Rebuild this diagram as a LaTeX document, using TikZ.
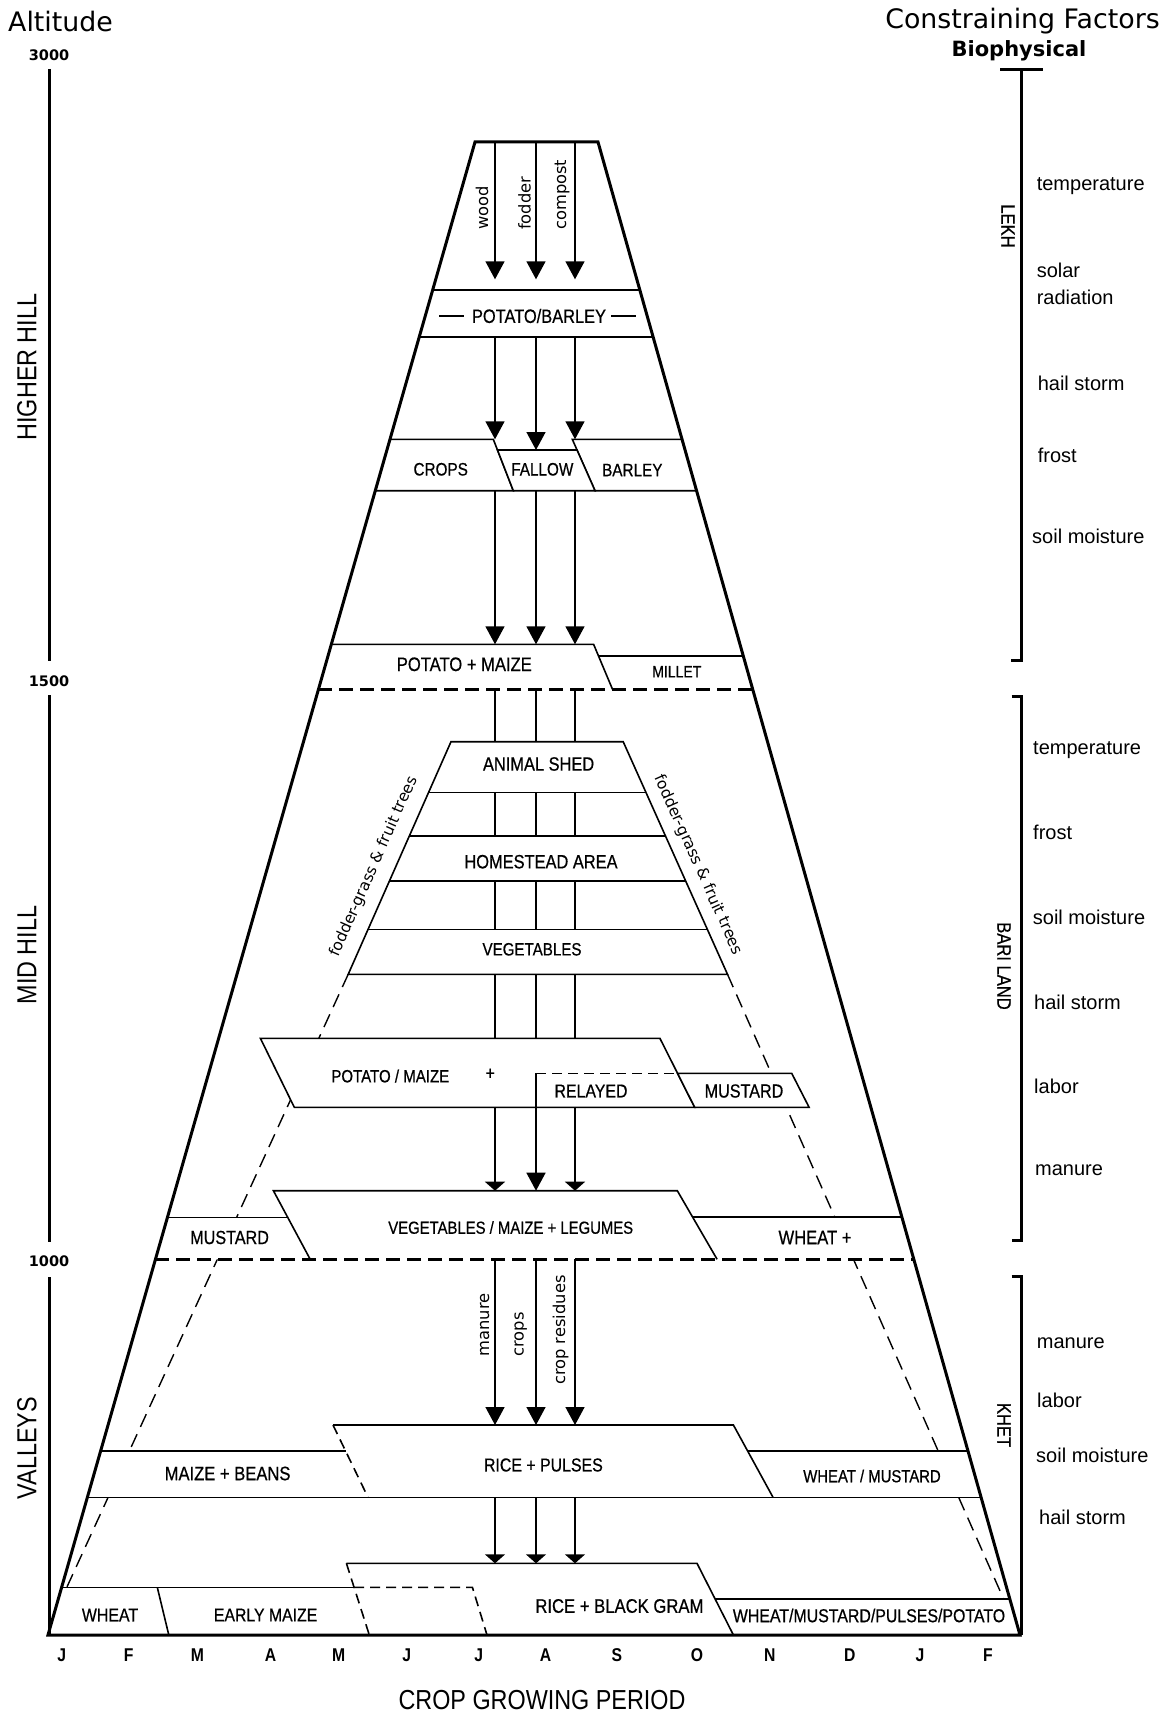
\documentclass[tikz,border=0pt]{standalone}
\usepackage{fontspec}
\setmainfont{Liberation Sans}
\newfontfamily\nar[FakeStretch=0.85]{Liberation Sans}
\newfontfamily\narb[FakeStretch=0.85,FakeBold=0.6]{Liberation Sans}
\newfontfamily\dvs{DejaVu Sans}
\usetikzlibrary{arrows.meta}
\tikzset{
 thickl/.style={line width=3pt,line join=miter},
 thin/.style={line width=1.6pt},
 arr/.style={line width=1.5pt,-{Triangle[width=19pt,length=18pt]}},
 flat/.style={line width=1.5pt,-{Triangle[width=20pt,length=9pt]}},
 link/.style={line width=1.5pt},
 bigdash/.style={line width=3pt,dash pattern=on 14pt off 7pt},
 sidedash/.style={line width=1.4pt,dash pattern=on 14pt off 8pt},
 reldash/.style={line width=1.6pt,dash pattern=on 10pt off 6pt},
 crop/.style={font={\narb\fontsize{#1}{#1}\selectfont},inner sep=0pt},
 crop/.default=18.7,
 flow/.style={font={\dvs\fontsize{16.3}{16.3}\selectfont},inner sep=0pt,rotate=90,anchor=base west},
 grass/.style={font={\dvs\fontsize{15.5}{15.5}\selectfont},inner sep=0pt},
 factor/.style={font={\fontsize{20}{20}\selectfont},inner sep=0pt,anchor=west},
 zonetext/.style={font={\nar\fontsize{27.5}{27.5}\selectfont},inner sep=0pt},
 zone/.style={zonetext,rotate=90},
 landuse/.style={font={\narb\fontsize{19.5}{19.5}\selectfont},inner sep=0pt,rotate=-90},
 month/.style={font={\nar\bfseries\fontsize{18.5}{18.5}\selectfont},inner sep=0pt},
 altnum/.style={font={\dvs\bfseries\fontsize{14.5}{14.5}\selectfont},inner sep=0pt},
 head/.style={font={\dvs\fontsize{26.8}{26.8}\selectfont},inner sep=0pt},
 bracket/.style={line width=3pt,line join=miter},
}
\begin{document}
\begin{tikzpicture}[x=1pt,y=-1pt]
\fill[white] (0,0) rectangle (1171,1715);
\useasboundingbox (0,0) rectangle (1171,1715);

% ---------- inside the pyramid ----------
\begin{scope}
\clip (475,142)--(598,142)--(1020,1635)--(48,1635)--cycle;
\coordinate (ldA) at (348.19,974.3);
\coordinate (ldB) at (66.8,1587.3);
\coordinate (rdA) at (727.5,974.3);
\coordinate (rdB) at (1003.6,1599);
\draw[sidedash] (ldA) -- (ldB);
\draw[sidedash] (rdA) -- (rdB);

% band A: potato/barley
\filldraw[fill=white,thin] (0,290) rectangle (1171,337);
% band B: crops / fallow / barley
\filldraw[fill=white,thin] (0,439.3)--(493.3,439.3)--(513.3,490.7)--(0,490.7)--cycle;
\filldraw[fill=white,thin] (572.3,439.3)--(1171,439.3)--(1171,490.7)--(595,490.7)--cycle;
\filldraw[fill=white,thin] (497.5,450)--(577,450)--(595,490.7)--(513.3,490.7)--cycle;
% band C: potato + maize / millet
\fill[white] (0,644.3)--(593.6,644.3)--(612.5,689.3)--(0,689.3)--cycle;
\fill[white] (598.5,655.7)--(1171,655.7)--(1171,689.3)--(612.5,689.3)--cycle;
\draw[thin] (0,644.3)--(593.6,644.3)--(612.5,689.3);
\draw[thin] (598.5,655.7)--(1171,655.7);
\draw[bigdash] (318.47,689.3)--(752.70,689.3);

% inner trapezoid (homestead)
\draw[thin,line join=miter] (451,741.7)--(623.2,741.7)--(727.5,974.3)--(348.19,974.3)--cycle;
\draw[thin] (428.63,792.3)--(645.89,792.3);
\draw[thin] (409.32,836)--(665.48,836);
\draw[thin] (389.43,881)--(685.66,881);
\draw[thin] (368.08,929.3)--(707.32,929.3);

% band D: potato/maize + relayed mustard
\filldraw[fill=white,thin] (260.4,1038.3)--(659.9,1038.3)--(694.7,1107.3)--(294.3,1107.3)--cycle;
\filldraw[fill=white,thin] (677.5,1073.3)--(791.7,1073.3)--(809.1,1107.3)--(694.7,1107.3)--cycle;
\coordinate (rel) at (536,1073.3);
\coordinate (relR) at (677.5,1073.3);
\draw[reldash] (rel) -- (relR);

% band E: vegetables/maize+legumes
\fill[white] (273.4,1190.7)--(677.3,1190.7)--(717.1,1259.3)--(310.2,1259.3)--cycle;
\fill[white] (0,1217.3)--(287.7,1217.3)--(310.2,1259.3)--(0,1259.3)--cycle;
\fill[white] (692.4,1216.7)--(1171,1216.7)--(1171,1259.3)--(717.1,1259.3)--cycle;
\draw[thin] (310.2,1259.3)--(273.4,1190.7)--(677.3,1190.7)--(717.1,1259.3);
\draw[thin] (0,1217.3)--(287.7,1217.3);
\draw[thin] (692.4,1216.7)--(1171,1216.7);
\draw[bigdash] (155.45,1259.3)--(913.81,1259.3);

% band F: rice + pulses
\fill[white] (0,1451)--(345.6,1451)--(333,1425)--(733.4,1425)--(747.6,1451)--(1171,1451)--(1171,1497.3)--(0,1497.3)--cycle;
\draw[thin] (0,1451)--(345.6,1451);
\draw[thin] (333,1425)--(733.4,1425)--(773,1497.3);
\draw[thin] (747.6,1451)--(1171,1451);
\draw[thin] (0,1497.3)--(1171,1497.3);
\draw[reldash] (333,1425)--(368,1497.3);

% band G: rice + black gram
\fill[white] (0,1587.3)--(354.1,1587.3)--(346.4,1563.3)--(697,1563.3)--(715.3,1599)--(1171,1599)--(1171,1640)--(0,1640)--cycle;
\draw[thin] (0,1587.3)--(354.1,1587.3);
\draw[thin] (157.3,1587.3)--(168.8,1635);
\draw[thin] (346.4,1563.3)--(697,1563.3)--(733.4,1635);
\draw[thin] (715.3,1599)--(1171,1599);
\draw[reldash] (346.4,1563.3)--(369.3,1635);
\draw[reldash] (354.1,1587.3)--(472.4,1587.3)--(487,1635);
\end{scope}

% ---------- flows ----------
\foreach \n/\x/\yb in {1/495/439.3,2/536/450,3/575/439.3}{
  \coordinate (f0\n) at (\x,142);   \coordinate (f1\n) at (\x,279.3);
  \coordinate (f2\n) at (\x,337);   \coordinate (f3\n) at (\x,\yb);
  \coordinate (f4\n) at (\x,490.7); \coordinate (f5\n) at (\x,644.3);
  \coordinate (g0\n) at (\x,689.3); \coordinate (g1\n) at (\x,741.7);
  \coordinate (g2\n) at (\x,792.3); \coordinate (g3\n) at (\x,836);
  \coordinate (g4\n) at (\x,881);   \coordinate (g5\n) at (\x,929.3);
  \coordinate (g6\n) at (\x,974.3); \coordinate (g7\n) at (\x,1038.3);
  \coordinate (h1\n) at (\x,1190.7);
  \coordinate (h2\n) at (\x,1259.3); \coordinate (h3\n) at (\x,1425);
  \coordinate (h4\n) at (\x,1497.3); \coordinate (h5\n) at (\x,1563.3);
  \draw[arr] (f0\n) -- (f1\n);
  \draw[arr] (f2\n) -- (f3\n);
  \draw[arr] (f4\n) -- (f5\n);
  \draw[link] (g0\n) -- (g1\n);
  \draw[link] (g2\n) -- (g3\n);
  \draw[link] (g4\n) -- (g5\n);
  \draw[link] (g6\n) -- (g7\n);
  \draw[arr] (h2\n) -- (h3\n);
  \draw[flat] (h4\n) -- (h5\n);
}
\coordinate (pmb1) at (495,1107.3);
\coordinate (pmb3) at (575,1107.3);
\draw[flat] (pmb1) -- (h11);
\draw[arr] (rel) -- (h12);
\draw[flat] (pmb3) -- (h13);

% ---------- pyramid outline ----------
\coordinate (TL) at (475,142);
\coordinate (TR) at (598,142);
\coordinate (BR) at (1020,1635);
\coordinate (BL) at (48,1635);
\draw[thickl] (TL)--(TR)--(BR)--(BL)--cycle;

% ---------- flow labels ----------
\node[flow] (wood) at (488,230) {wood};
\node[flow] (fodder) at (530.5,230) {fodder};
\node[flow] (compost) at (566,230) {compost};
\node[flow] (manure) at (489.2,1356.7) {manure};
\node[flow] (crops) at (523.6,1356.7) {crops};
\node[flow] (cropres) at (565,1385) {crop residues};

% ---------- crop labels ----------
\node[crop=19.3] (pb) at (539,316) {POTATO/BARLEY};
\draw[thin] ([xshift=-8pt]pb.west) -- ++(-25,0);
\draw[thin] ([xshift=5pt]pb.east) -- ++(25,0);
\node[crop=18] (cr) at (440.7,469.3) {CROPS};
\node[crop=18] (fa) at (542.3,469.3) {FALLOW};
\node[crop=18] (ba) at (632.3,470) {BARLEY};
\node[crop=19.5] (pm) at (464.3,664.3) {POTATO + MAIZE};
\node[crop=16.5] (mi) at (676.8,671.7) {MILLET};
\node[crop=19.3] (as) at (538.6,764) {ANIMAL SHED};
\node[crop=19.3] (ha) at (541,861.7) {HOMESTEAD AREA};
\node[crop=17.8] (ve) at (532,949.3) {VEGETABLES};
\node[grass,rotate=66.2] (fgl) at (374,866.5) {fodder-grass \& fruit trees};
\node[grass,rotate=-65.9] (fgr) at (698.2,865) {fodder-grass \& fruit trees};
\node[crop=17.7] (pmz) at (390.3,1076) {POTATO / MAIZE};
\node[crop=18.7] (plus) at (490.3,1074) {+};
\node[crop=18.7] (rl) at (591,1091) {RELAYED};
\node[crop=19] (mu1) at (744,1091) {MUSTARD};
\node[crop=17.5] (vml) at (510.7,1227.5) {VEGETABLES / MAIZE + LEGUMES};
\node[crop=19] (mu2) at (229.6,1237.5) {MUSTARD};
\node[crop=19.5] (whp) at (815,1237.5) {WHEAT +};
\node[crop=19.5] (mb) at (227.6,1473.5) {MAIZE + BEANS};
\node[crop=18.7] (rp) at (543.4,1465) {RICE + PULSES};
\node[crop=17.5] (wm) at (872,1476) {WHEAT / MUSTARD};
\node[crop=18.7] (wh) at (110,1615) {WHEAT};
\node[crop=18.6] (em) at (265.6,1615) {EARLY MAIZE};
\node[crop=19.6] (rbg) at (619.4,1606) {RICE + BLACK GRAM};
\node[crop=18.7] (wmpp) at (869,1615.5) {WHEAT/MUSTARD/PULSES/POTATO};

% ---------- months ----------
\foreach \m/\x [count=\i] in {J/61.8,F/128.7,M/197.4,A/270.6,M/338.7,J/406.8,J/478.8,A/545.6,S/616.9,O/697.1,N/769.7,D/849.9,J/919.9,F/988}{
  \node[month] (mo\i) at (\x,1655) {\m};
}
\node[zonetext] (cgp) at (542,1700) {CROP GROWING PERIOD};

% ---------- altitude axis ----------
\node[head,anchor=base west] (alt) at (8,32) {Altitude};
\node[altnum] (a3000) at (49,55) {3000};
\node[altnum] (a1500) at (49,681) {1500};
\node[altnum] (a1000) at (49,1261) {1000};
\coordinate (ax0) at (49,69);   \coordinate (ax1) at (49,661);
\coordinate (ax2) at (49,695);  \coordinate (ax3) at (49,1242);
\coordinate (ax4) at (49,1277); \coordinate (ax5) at (49,1635);
\draw[bracket] (ax0) -- (ax1);
\draw[bracket] (ax2) -- (ax3);
\draw[bracket] (ax4) -- (ax5);
\node[zone] (hh) at (27,367) {HIGHER HILL};
\node[zone] (mh) at (27,955) {MID HILL};
\node[zone] (va) at (27,1448) {VALLEYS};

% ---------- constraining factors ----------
\node[head,anchor=base] (cf) at (1022.5,28.5) {Constraining Factors};
\node[font={\dvs\bfseries\fontsize{21}{21}\selectfont},inner sep=0pt,anchor=base] (bio) at (1019,56.5) {Biophysical};
\draw[bracket] (1000,70) -- (1043,70);
\draw[bracket] (1021.7,70) -- (1021.7,660) -- (1011,660);
\draw[bracket] (1011.7,696) -- (1021.7,696) -- (1021.7,1240.6) -- (1011.7,1240.6);
\draw[bracket] (1011.7,1276.7) -- (1021.7,1276.7) -- (1021.7,1635);
\node[landuse] (lekh) at (1008,226) {LEKH};
\node[landuse] (bari) at (1004,966) {BARI LAND};
\node[landuse] (khet) at (1004,1425) {KHET};

\node[factor] (l1) at (1036.6,186) {temperature};
\node[factor] (l2) at (1036.6,270) {solar};
\node[factor] (l3) at (1036.6,297) {radiation};
\node[factor] (l4) at (1037.6,383) {hail storm};
\node[factor] (l5) at (1037.6,455) {frost};
\node[factor] (l6) at (1032,536) {soil moisture};

\node[factor] (b1) at (1033,750) {temperature};
\node[factor] (b2) at (1033,832) {frost};
\node[factor] (b3) at (1032.7,917) {soil moisture};
\node[factor] (b4) at (1034,1002) {hail storm};
\node[factor] (b5) at (1034,1086) {labor};
\node[factor] (b6) at (1035,1170.5) {manure};

\node[factor] (k1) at (1036.7,1343) {manure};
\node[factor] (k2) at (1037,1400) {labor};
\node[factor] (k3) at (1036,1455) {soil moisture};
\node[factor] (k4) at (1039,1517) {hail storm};
\end{tikzpicture}
\end{document}
